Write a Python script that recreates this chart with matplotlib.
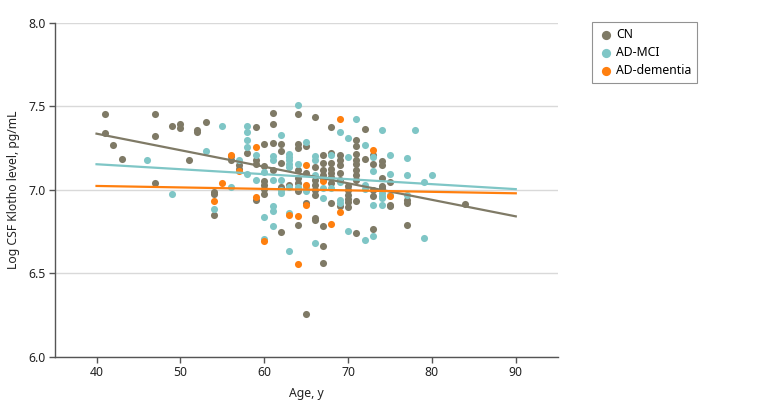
#!/usr/bin/env python
""" Scatter of CSF Klotho level by age, with fitted lines per group. """

import matplotlib
matplotlib.use("Agg")
import matplotlib.pyplot as plt

# CN group (age, log CSF Klotho)
cn_age = [41, 47, 41, 42, 43, 47, 49, 50, 50, 51, 52, 52, 53, 47, 54, 54, 54, 56, 56, 57, 57,
          64, 61, 61, 66, 68, 72, 59, 58, 60, 61, 62, 62, 64, 64, 65, 71, 71, 73, 74, 74,
          59, 59, 60, 61, 62, 64, 66, 67, 67, 68, 68, 68, 68, 69, 69, 69, 69, 71, 71, 71, 71,
          71, 71, 72, 73, 74,
          60, 60, 60, 60, 59, 62, 63, 64, 64, 64, 65, 66, 66, 66, 66, 67, 67, 67, 68, 68, 68,
          69, 70, 70, 70, 70, 70, 70, 71, 73, 73, 74, 66,
          64, 62, 65, 66, 67, 67, 67, 65, 69, 71, 73, 75, 74,
          75, 77, 77, 75, 84, 77]
cn_val = [7.45, 7.45, 7.34, 7.27, 7.185, 7.32, 7.38, 7.39, 7.37, 7.18, 7.355, 7.345, 7.405, 7.04,
          6.985, 6.975, 6.85, 7.20, 7.18, 7.145, 7.125,
          7.455, 7.46, 7.395, 7.435, 7.375, 7.36, 7.375, 7.22, 7.275, 7.28, 7.275, 7.23, 7.275,
          7.25, 7.26, 7.295, 7.26, 7.21, 7.17, 7.15,
          7.175, 7.155, 7.14, 7.115, 7.16, 7.115, 7.135, 7.205, 7.16, 7.22, 7.16, 7.125, 7.10,
          7.21, 7.18, 7.145, 7.10, 7.215, 7.18, 7.155, 7.12, 7.09, 7.06, 7.185, 7.155, 7.07,
          7.05, 7.025, 7.005, 6.975, 6.935, 7.015, 7.03, 7.07, 7.04, 6.99, 7.10, 7.06, 7.03,
          7.0, 6.97, 7.115, 7.085, 7.07, 7.075, 7.04, 6.92, 7.06, 7.02, 7.0, 6.97, 6.945,
          6.925, 6.895, 6.93, 7.0, 6.96, 7.02, 6.83,
          6.79, 6.745, 6.92, 6.82, 6.785, 6.66, 6.56, 6.255, 6.90, 6.74, 6.765, 6.91, 7.01,
          7.045, 6.94, 6.92, 6.90, 6.915, 6.79]

# AD-MCI group
mci_age = [46, 53, 55, 49, 56, 54, 57,
           64, 71, 69, 74, 58, 58, 58, 58, 62, 65, 70, 72, 73,
           59, 61, 61, 63, 63, 63, 63, 63, 64, 66, 66, 68, 70, 73,
           58, 59, 60, 61, 62, 62, 62, 63, 64, 65, 65, 66, 67, 67, 68, 69, 69, 69, 72, 72, 73,
           74, 74,
           61, 61, 60, 61, 63, 60, 63, 66, 70, 72, 73,
           78, 75, 77, 75, 77, 80, 79, 74, 74, 75, 77, 79]
mci_val = [7.18, 7.23, 7.38, 6.975, 7.015, 6.885, 7.175,
           7.505, 7.425, 7.345, 7.355, 7.38, 7.345, 7.295, 7.255, 7.325, 7.285, 7.31, 7.27, 7.195,
           7.205, 7.20, 7.18, 7.215, 7.195, 7.175, 7.155, 7.135, 7.155, 7.20, 7.175, 7.205,
           7.195, 7.11,
           7.095, 7.055, 7.105, 7.055, 7.055, 7.0, 6.98, 7.015, 7.015, 7.015, 6.99, 7.09, 7.01,
           6.95, 7.01, 7.045, 6.94, 6.92, 7.025, 7.005, 6.91, 6.96, 6.91,
           6.90, 6.87, 6.835, 6.785, 6.86, 6.705, 6.635, 6.68, 6.75, 6.70, 6.72,
           7.355, 7.205, 7.19, 7.095, 7.085, 7.085, 7.045, 6.98, 6.95, 6.965, 6.97, 6.71]

# AD-dementia group
ad_age = [55, 54, 56, 57, 69, 59, 73, 65, 59, 65, 67, 69, 63, 64, 60, 64, 65, 68, 75]
ad_val = [7.04, 6.93, 7.21, 7.11, 7.42, 7.255, 7.235, 7.145, 6.955, 7.03, 7.05, 6.865, 6.85,
          6.845, 6.69, 6.555, 6.91, 6.795, 6.96]

# Fitted lines at the ends
fit_age = [40, 90]
cn_fit = [7.335, 6.84]
mci_fit = [7.152, 7.003]
ad_fit = [7.022, 6.978]

col_cn = "#7f7a66"
col_mci = "#7fc6c6"
col_ad = "#ff7f0e"
fs = 8.8

plt.rcParams['font.family'] = ['Noto Sans', 'DejaVu Sans']

fig = plt.figure(figsize=(7.8, 4.18), dpi=100)
ax = fig.add_axes([0.070, 0.1467, 0.645, 0.7993])

ax.grid(axis='y', color='#d9d9d9', linewidth=1.0, zorder=0)
ax.set_axisbelow(True)

ax.scatter(cn_age, cn_val, s=26, color=col_cn, linewidths=0, label='CN', zorder=3)
ax.scatter(mci_age, mci_val, s=26, color=col_mci, linewidths=0, label='AD-MCI', zorder=3)
ax.scatter(ad_age, ad_val, s=26, color=col_ad, linewidths=0, label='AD-dementia', zorder=3)

ax.plot(fit_age, cn_fit, color=col_cn, linewidth=1.6, zorder=4)
ax.plot(fit_age, mci_fit, color=col_mci, linewidth=1.6, zorder=4)
ax.plot(fit_age, ad_fit, color=col_ad, linewidth=1.6, zorder=4)

ax.set_xlim(35, 95)
ax.set_ylim(6.0, 8.0)
ax.set_xticks([40, 50, 60, 70, 80, 90])
ax.set_yticks([6.0, 6.5, 7.0, 7.5, 8.0])
ax.set_yticklabels(['6.0', '6.5', '7.0', '7.5', '8.0'])

for side in ['top', 'right']:
    ax.spines[side].set_visible(False)
for side in ['left', 'bottom']:
    ax.spines[side].set_color('#555555')
    ax.spines[side].set_linewidth(1.0)
ax.tick_params(axis='both', colors='#555555', labelcolor='#222222', labelsize=fs,
               length=4, width=1.0, pad=2.5)

ax.set_xlabel('Age, y', fontsize=fs, color='#222222', labelpad=6)
ax.set_ylabel('Log CSF Klotho level, pg/mL', fontsize=fs, color='#222222', labelpad=6)

leg = ax.legend(loc='upper left', bbox_to_anchor=(592 / 780, 1 - 22 / 418),
                bbox_transform=fig.transFigure, borderaxespad=0, frameon=True,
                fancybox=False, fontsize=fs, handletextpad=0.15, labelspacing=0.4,
                borderpad=0.5, handlelength=1.3, markerscale=1.3)
leg.get_frame().set_edgecolor('#777777')
leg.get_frame().set_linewidth(0.8)

fig.savefig("out.png", dpi=100)
